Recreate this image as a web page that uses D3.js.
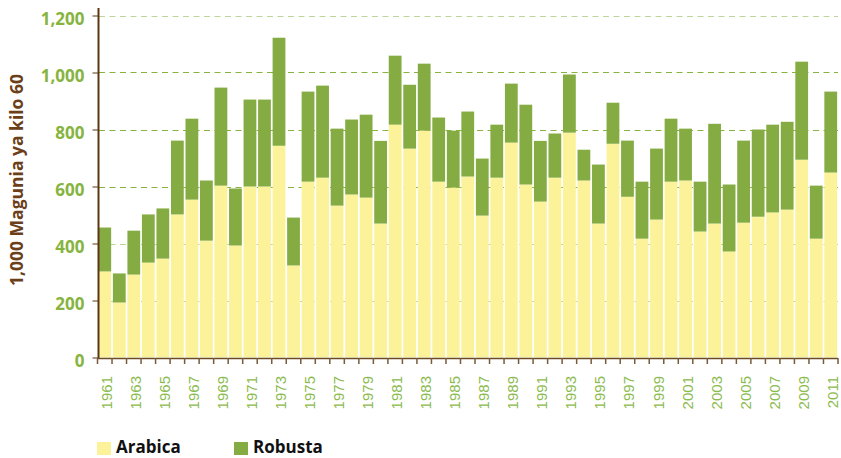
<!DOCTYPE html>
<html><head><meta charset="utf-8">
<script src="https://cdn.jsdelivr.net/npm/d3@7"></script>
<style>body{margin:0;background:#fff}svg{display:block}</style>
</head><body><svg id="c" width="841" height="458"></svg>
<script>
const years = d3.range(1961, 2012);
const arabica = [302,193,291,333,347,502,554,410,603,393,600,600,743,323,617,631,533,572,561,470,
  817,733,796,617,596,635,498,631,754,607,547,631,789,621,470,750,564,417,484,617,
  621,442,470,372,473,494,509,519,694,417,649];
const total = [456,295,445,502,523,761,838,621,947,593,905,905,1122,491,933,954,803,835,852,760,
  1059,957,1031,842,796,863,698,817,961,887,760,786,993,729,677,894,761,617,733,838,
  803,617,820,607,761,800,817,827,1038,603,933];
const robusta = total.map((t,i)=>t-arabica[i]);
const yTicks = [0,200,400,600,800,1000,1200];
const seriesNames = ["Arabica","Robusta"];
const colors = ["#FBF29A","#84AC42"];

const svg = d3.select("#c");
const x = d3.scaleBand().domain(years).range([97.5, 838]).paddingInner(0.12).paddingOuter(0.06);
const y = d3.scaleLinear().domain([0,1200]).range([357.5, 15.5]);

// gridlines
svg.append("g").selectAll("line").data(yTicks.filter(d=>d>0)).join("line")
  .attr("x1", 99).attr("x2", 838)
  .attr("y1", d=>Math.round(y(d))+0.5).attr("y2", d=>Math.round(y(d))+0.5)
  .attr("stroke", d=> (d===1200||d===400||d===200) ? "#bcd699" : "#86b43e")
  .attr("stroke-width", 1).attr("stroke-dasharray", "6,4.5");

const data = years.map((yr,i)=>({yr, a:arabica[i], r:robusta[i]}));
const stack = d3.stack().keys(["a","r"])(data);
svg.append("g").selectAll("g").data(stack).join("g")
  .attr("fill",(d,i)=>colors[i])
  .selectAll("rect").data(d=>d).join("rect")
  .attr("x", d=>x(d.data.yr)).attr("width", x.bandwidth())
  .attr("y", d=>y(d[1])).attr("height", d=>y(d[0])-y(d[1]));

// y axis
const yAxis = svg.append("g").attr("transform","translate(98.5,0)")
  .call(d3.axisLeft(y).tickValues(yTicks).tickSize(6).tickPadding(8).tickFormat(d3.format(",")));
yAxis.select(".domain").remove();
yAxis.append("line").attr("x1",0).attr("x2",0).attr("y1",8).attr("y2",359).attr("stroke","#5c3612").attr("stroke-width",2);
yAxis.selectAll(".tick line").attr("stroke","#5c3612").attr("stroke-width",1);
yAxis.selectAll(".tick text").attr("fill","#86b43e").attr("font-family","'Open Sans', 'Liberation Sans', sans-serif")
  .attr("font-weight","bold").attr("font-size","17px").attr("dy","0.55em");

// x axis
const xAxis = svg.append("g").attr("transform","translate(0,358)");
xAxis.append("line").attr("x1",97).attr("x2",838).attr("y1",0.5).attr("y2",0.5).attr("stroke","#6b4a2a").attr("stroke-width",1.5);
const bounds = d3.range(years.length+1).map(i=> 97.5 + i*(838-97.5)/years.length);
xAxis.selectAll("line.tk").data(bounds).join("line").attr("class","tk")
  .attr("x1",d=>d).attr("x2",d=>d).attr("y1",0).attr("y2",6)
  .attr("stroke","#7a5a3a").attr("stroke-width",1.5);
xAxis.selectAll("text").data(years.filter((d,i)=>i%2===0)).join("text")
  .attr("transform", d=>`translate(${x(d)+x.bandwidth()/2+7},18) rotate(-90)`)
  .attr("text-anchor","end")
  .attr("fill","#8bbb4f").attr("font-family","'Liberation Sans', Arial, sans-serif").attr("font-size","15px")
  .text(d=>d);

// y label
svg.append("text").attr("transform","translate(23,180) rotate(-90)")
  .attr("text-anchor","middle").attr("fill","#6b3f1a")
  .attr("font-family","'Open Sans', 'Liberation Sans', sans-serif").attr("font-weight","bold").attr("font-size","17.5px")
  .text("1,000 Magunia ya kilo 60");

// legend
const leg = svg.append("g");
const legX = [97, 234];
seriesNames.forEach((n,i)=>{
  leg.append("rect").attr("x",legX[i]).attr("y",442).attr("width",14).attr("height",13).attr("fill",colors[i]);
  leg.append("text").attr("x",legX[i]+19).attr("y",453).attr("fill","#111")
    .attr("font-family","'Open Sans', 'Liberation Sans', sans-serif").attr("font-weight","bold").attr("font-size","17px")
    .text(n);
});
</script></body></html>
